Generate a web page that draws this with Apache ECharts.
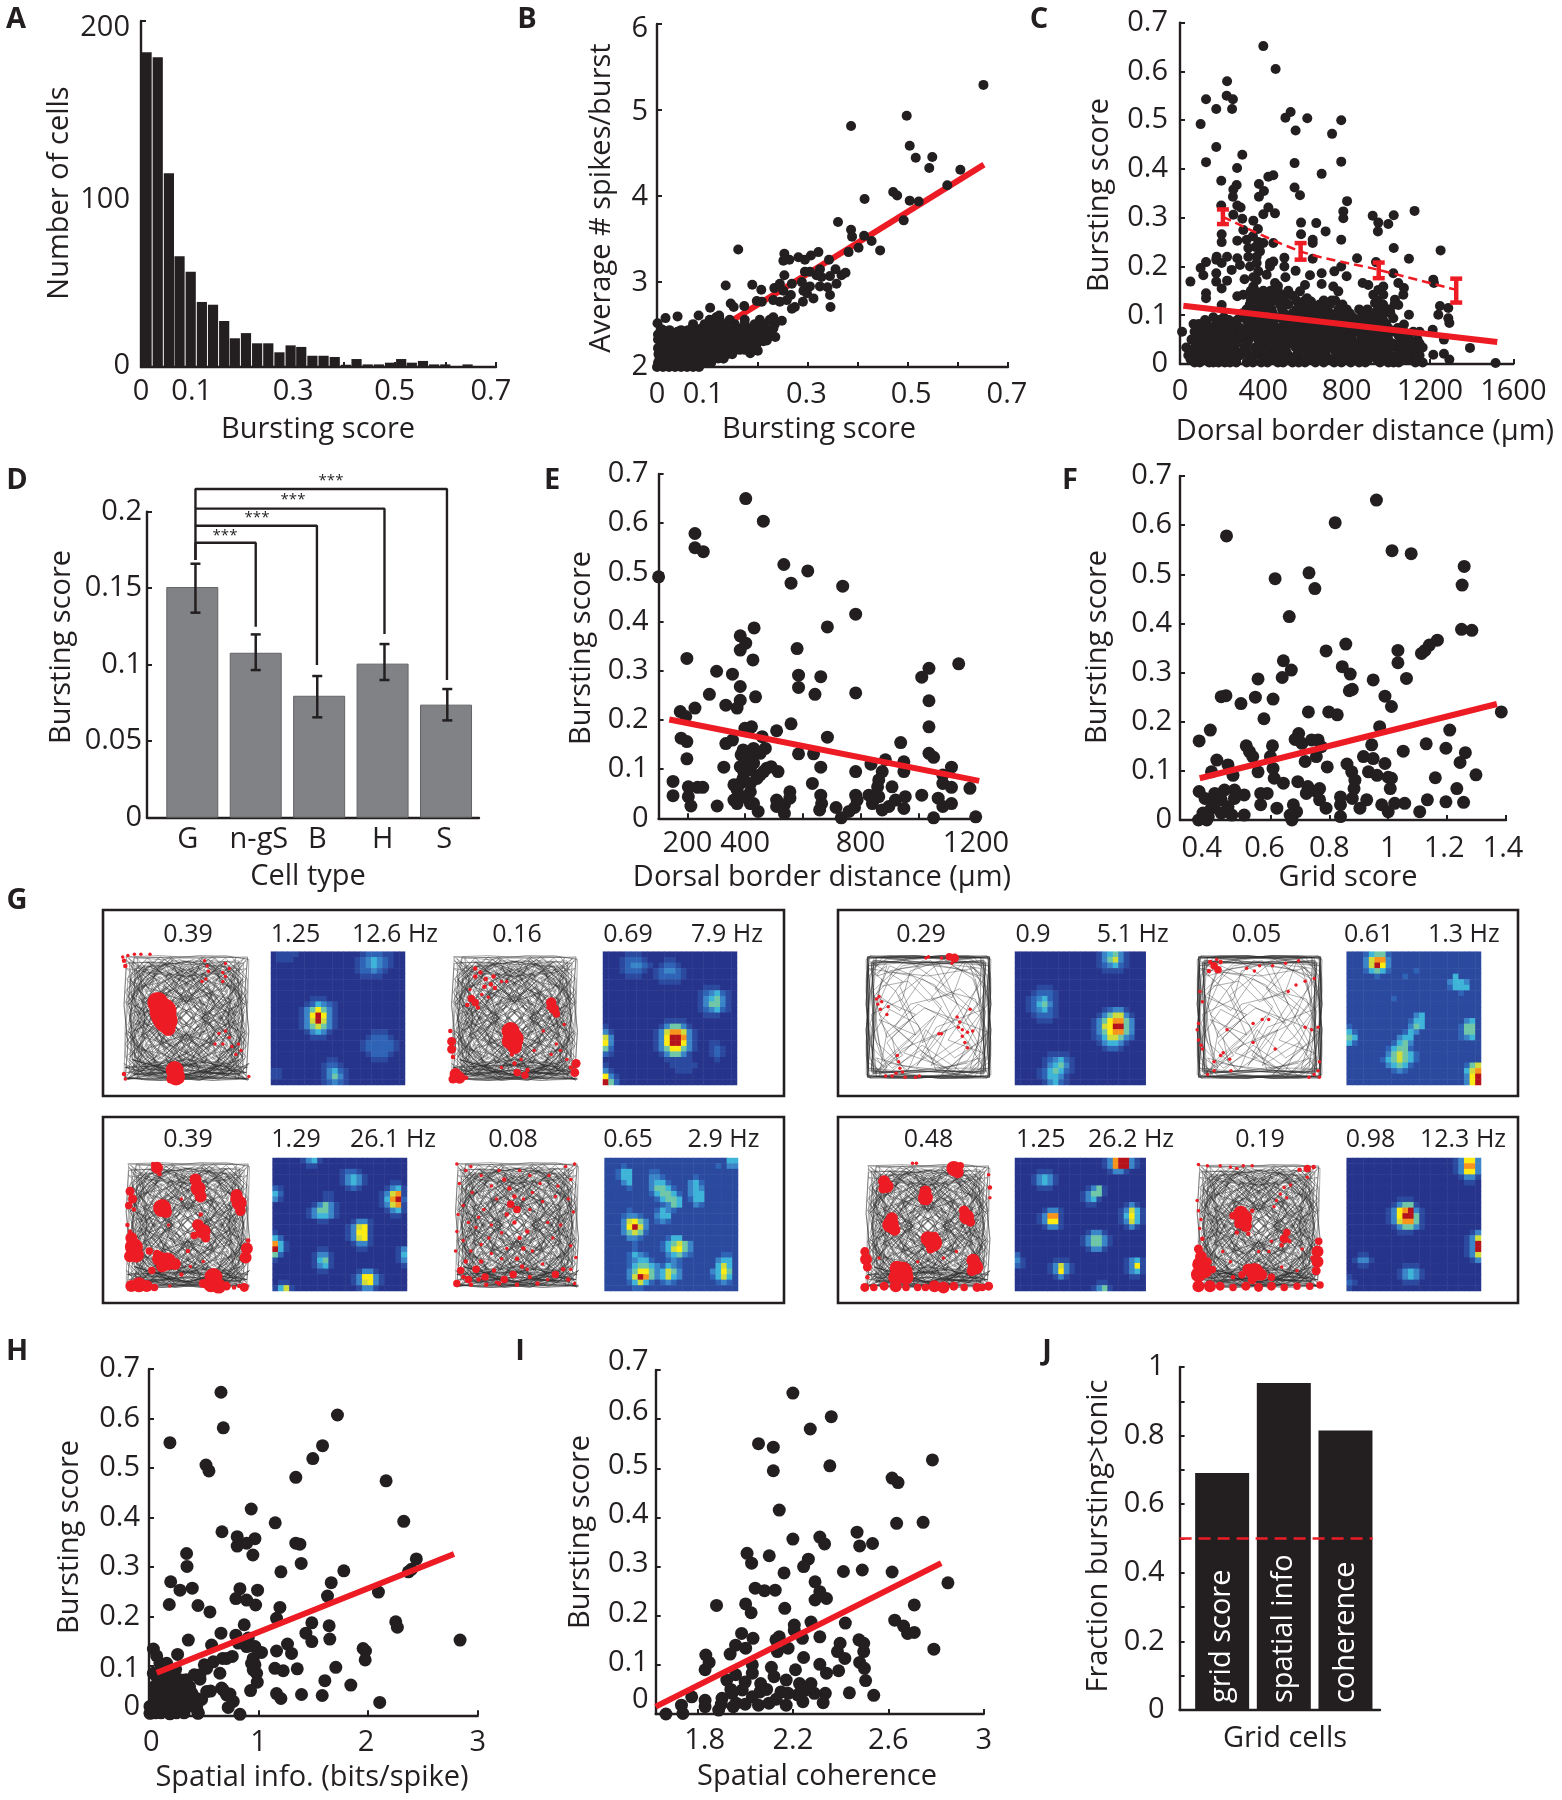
<!DOCTYPE html>
<html><head><meta charset="utf-8">
<style>html,body{margin:0;background:#fff}#c{width:1562px;height:1800px}</style>
<script src="https://cdn.jsdelivr.net/npm/echarts@6/dist/echarts.min.js"></script>
</head><body><div id="c"></div>
<script>
// Panel A histogram
const aBins=[.011,.033,.055,.076,.098,.12,.142,.164,.185,.207,.229,.251,.273,.295,.316,.338,.36,.382,.404,.425,.447,.469,.491,.513,.534,.556,.578,.6,.622,.644,.665,.687];
const aCounts=[182,179,112,64,55,37.6,36,26.6,16.6,19.6,13.7,13.7,8.5,12.5,11.6,6.5,6.5,5.8,1.3,4.6,1.5,1.5,2.5,4.6,2.5,3.5,1.5,1.5,.5,1.5,.5,.5];
// Panel B (x*1000, y*100)
const bFlat=[651,529,498,493,387,481,504,458,516,444,549,445,543,432,605,430,579,412,471,404,479,400,414,396,504,394,522,393,492,371,361,369,387,360,389,352,413,353,428,347,402,339,445,336,382,334,162,337,254,332,322,334,307,330,295,325,282,328,264,325,252,324,343,325,295,311,305,311,325,314,318,307,328,305,345,306,356,314,368,307,376,310,254,307,137,295,190,296,208,290,234,292,245,297,252,289,269,297,289,299,305,294,325,294,340,293,358,297,345,284,292,289,299,286,312,280,291,276,346,270,267,284,259,278,269,268,275,270,232,278,245,276,199,277,209,276,147,274,153,270,174,271,106,269,41,259,17,257,1,251,9,244,83,260,124,260,41,241,186,216,201,219,219,231,133,210,249,254,232,258,80,201];
const bRows=[[200,0,12,24,36,48,60,72,84],[205,2,14,28,42,55,68,80,92,100,108],[210,5,16,30,44,58,72,88,100,112,122,132],[215,3,18,33,47,60,75,90,104,118,130,140,150],[220,6,20,35,50,65,80,95,110,125,140,155,165,175],[225,8,22,38,52,68,84,100,115,130,146,162,178,188,198],[230,10,30,48,66,82,98,114,130,148,165,182,200,212],[235,25,45,64,80,96,112,128,145,160,176,192,208,222,236],[240,38,60,78,94,110,126,142,158,174,190,206,222],[245,70,88,104,120,136,152,168,184,200,216,232],[250,72,95,115,135,155,175,195,215,235],[255,105,125,145,175,205,225],[258,118],[222,2,10,14,28,44,58,72,88],[232,2,16,22,40,56,74,90],[243,12,25,48,62,84,98],[238,2,12,20,32,52,68,86],[228,14,30,44,60,76,92,108]];
// Panel C (x, y*1000)
const cFlat=[400,652,459,605,226,580,224,550,254,543,125,543,174,523,250,523,531,517,506,505,611,504,774,500,99,492,555,479,730,472,174,445,125,414,550,412,774,415,299,429,274,402,680,390,424,384,448,387,198,376,379,369,272,367,256,358,403,355,550,362,576,346,254,343,379,343,802,334,275,325,291,321,198,325,424,321,1126,314,784,313,456,309,400,307,1026,305,925,304,784,299,256,306,299,298,352,294,581,290,952,290,654,289,1000,287,950,272,699,272,374,277,581,266,200,266,304,275,200,250,275,253,320,255,774,255,637,255,637,248,376,250,400,248,448,248,1026,238,328,238,384,231,1251,233,501,218,850,217,1099,216,637,216,226,220,174,214,275,217,368,220,941,209,125,209,50,169,125,145,125,135,174,186,174,169,200,155,99,197,112,182,226,171,275,139,304,142,352,159,376,139,310,174,432,200,416,183,456,166,504,142,555,191,506,178,501,200,624,182,680,186,680,164,600,162,576,149,629,128,736,159,760,149,741,190,774,200,800,180,728,130,877,166,904,162,928,142,976,159,952,152,976,142,936,125,952,111,1024,186,1048,166,1075,156,1072,142,1032,132,1048,121,1008,108,1024,94,1099,101,1075,81,1216,173,1219,166,1248,119,1288,115,1240,101,1288,94,1293,84,1213,70,1392,33,1515,2,1267,50,1267,21,1293,9,1216,19,336,200,368,207,376,190,328,220,288,203,248,193,200,207,176,220,432,207,448,210,352,178,368,172,350,262,362,240,340,150,470,160,520,150,610,135,200,121];
const cRows=[[3,70,95,140,160,185,215,240,270,320,350,390,420,470,495,540,570,600,650,690,740,775,820,860,890,960,1000,1025,1050,1130,1165],[18,40,80,120,155,200,245,290,330,380,430,480,520,560,610,660,700,750,800,840,880,925,965,1010,1060,1110,1150],[34,30,70,110,165,210,255,310,360,400,450,500,555,590,640,680,725,765,810,850,900,940,985,1040,1085,1125,1165],[50,55,100,145,190,235,280,330,375,420,465,510,550,600,645,690,735,780,825,870,915,960,1000,1060,1100,1140],[66,10,70,125,170,215,265,310,355,395,440,490,530,575,620,660,705,750,790,835,880,925,965,1020,1075,1120,1150],[82,65,90,130,175,220,260,330,370,410,450,505,555,600,640,690,730,770,820,860,900,950,990],[96,160,210,290,340,385,430,475,520,560,605,650,690,735,780,830,870,905,955],[112,320,365,400,440,490,560,600,640,700,760,800,860,900,950,1000],[130,340,375,420,465,500,560,600,690,745,950],[150,360,400,435,470],[10,50,110,175,225,270,345,405,455,505,545,595,635,675,715,760,805,850,905,945,990,1040,1090,1140],[26,50,90,135,185,225,270,320,370,415,465,510,570,620,655,700,745,785,830,865,915,955,1000,1050,1095,1145],[42,85,130,180,225,270,320,385,435,480,530,575,620,665,710,750,795,840,885,925,975,1020,1070,1115,1150],[58,80,115,160,205,250,295,345,385,430,475,520,565,610,650,695,740,780,825,870,910,950,990,1050,1095],[74,95,150,195,240,290,340,380,425,470,515,560,610,650,695,735,780,825,865,910,945,1000,1045],[90,120,185,235,275,320,355,400,445,495,540,585,625,670,715,755,805,850,885,930,975],[104,300,350,395,445,500,540,585,630,675,720,770,815,880,925,975,1010],[122,335,385,430,480,520,580,620,670,720,780,975,1030],[140,350,385,420,455,490,540]];
// Panel E (x, y*1000)
const eFlat=[402,650,463,604,226,579,226,550,255,542,100,491,534,516,617,503,559,478,738,472,783,415,685,389,431,387,383,371,402,356,383,342,580,345,198,325,427,322,1140,314,1037,305,1012,287,301,299,356,293,585,291,662,288,585,266,383,268,276,252,642,252,783,255,436,247,1037,239,383,240,333,230,372,224,226,224,175,217,194,207,559,192,1037,186,422,186,399,183,509,178,178,163,198,156,333,152,356,159,459,166,685,165,939,154,470,142,452,132,585,131,637,131,1037,132,1053,124,198,121,386,129,418,125,886,119,950,115,836,110,326,104,383,105,475,102,395,95,514,95,662,104,1115,104,783,95,950,95,875,95,441,81,863,78,1085,88,150,75,633,71,1085,71,1115,63,859,64,909,64,1179,61,203,64,235,63,253,63,361,68,418,54,555,54,150,46,1012,47,662,47,783,47,212,25,203,44,303,25,372,30,418,30,445,14,361,37,509,37,536,27,555,41,536,10,509,24,665,30,658,17,715,22,733,1,779,22,760,14,788,37,863,44,841,30,875,17,898,24,921,37,955,44,950,20,829,47,1053,1,1069,41,1115,30,1085,24,1199,3,383,71,418,71,372,58,395,44,429,30,393,139,404,132,429,142,398,119,429,112,393,81,418,98,452,88,464,95,490,105];
// Panel F (x*1000, y*1000)
const fFlat=[960,651,820,605,451,578,1013,548,1078,542,1258,516,731,503,616,491,1251,478,751,471,664,414,1249,388,1284,386,1167,366,856,358,1140,356,789,344,1033,345,1113,339,1125,345,644,324,1033,320,844,312,671,305,871,297,640,290,558,287,1062,288,949,285,878,266,868,263,433,251,449,253,549,250,609,246,989,252,1011,231,500,237,729,220,798,220,827,214,1384,220,578,206,971,190,396,183,1209,183,358,161,696,176,684,164,707,156,740,163,762,163,773,149,518,151,607,151,944,153,1129,155,1196,146,1262,137,1051,140,529,139,540,129,600,129,718,119,756,129,916,129,949,125,1244,117,418,122,456,112,400,98,473,91,558,98,609,105,613,85,793,108,860,114,876,98,887,81,989,115,933,98,962,91,1000,87,1160,86,1298,92,644,75,693,78,727,68,767,64,884,64,1007,64,1233,64,358,58,378,44,411,54,444,61,478,61,511,51,356,0,384,0,371,14,400,24,411,34,433,41,456,27,433,14,469,10,478,44,511,10,389,7,567,54,589,54,567,31,622,24,678,31,689,17,673,0,667,10,722,54,756,58,767,41,789,24,838,47,838,31,838,7,878,44,904,24,927,41,978,31,1000,17,1022,34,1056,34,1011,85,1107,17,1133,41,1196,37,1256,36];
// Panel H (x*1000, y*1000)
const hFlat=[657,653,1720,607,678,581,191,551,1584,545,520,506,547,494,1495,519,1340,481,2164,474,933,417,1152,389,2325,392,666,371,805,361,967,357,891,348,805,342,1340,348,1377,346,343,327,948,324,1389,307,347,301,2440,316,1204,290,1778,292,2368,290,2395,295,198,270,1663,268,283,253,395,257,830,256,991,253,2094,249,1629,241,793,236,891,233,973,223,185,224,447,222,1195,218,556,209,1164,196,1486,187,2252,189,2267,178,869,183,1644,181,657,166,1432,166,359,152,793,162,1650,154,2839,152,1486,149,906,156,571,142,1264,144,815,146,891,139,40,134,1954,135,1164,130,1976,130,1301,125,1027,127,70,120,261,123,760,119,672,115,1973,112,951,115,587,108,505,102,161,105,967,102,243,93,1149,95,1225,90,1353,94,1705,97,647,85,982,85,413,82,465,73,988,67,1605,70,1842,61,927,50,562,49,663,55,739,43,1392,42,1581,40,1164,44,1204,34,2106,26,769,28,723,16,830,2,447,4,191,3,480,32,465,82,526,95,708,115,343,38,435,34,526,48,678,51,708,41,100,105,161,92,70,78,100,65,222,78,313,71,161,51,252,58,343,55,70,38,131,24,252,21,343,18,435,18,222,38,9,18,9,4,967,139,951,92,936,105];
const hRows=[[5,20,60,110,190,250,320,450],[18,30,90,150,220,280,350,410],[32,50,110,170,240,300,370],[45,60,130,190,260,320,390],[58,50,120,180,240,300,370],[72,90,150,210,280,340],[85,40,110,170]];
// Panel I (x*1000, y*1000)
const iFlat=[2200,653,2361,605,2273,580,2056,550,2118,543,2785,517,2355,505,2118,495,2616,480,2641,471,2143,415,2635,388,2746,390,2469,370,2313,360,2200,356,2333,346,2480,342,2534,347,2008,327,2101,322,2027,307,2265,315,2245,300,2163,287,2412,290,2491,293,2616,289,2850,267,2293,269,2042,256,2081,251,2126,252,2313,249,2341,235,2293,232,1880,221,2002,224,2025,206,2709,222,2166,215,2627,191,2276,187,2206,181,2420,185,2664,179,2206,170,2681,164,2709,166,1985,164,2143,157,2033,154,2313,157,2129,151,2240,154,2477,151,2497,144,2398,144,2791,132,1960,140,1835,120,1937,122,2002,134,2497,127,2135,127,2180,134,2387,127,2418,113,2245,115,1849,105,2313,101,2480,105,1832,90,2500,93,2030,100,2110,95,2392,88,2211,90,2341,83,2505,68,2030,83,2121,76,2172,69,1923,69,2065,62,2228,62,2276,62,2437,43,2539,38,2336,42,2327,23,2242,25,2172,18,2100,22,1668,0,1739,1,1733,18,1832,28,1776,35,1832,15,1889,8,1903,32,1945,42,1988,49,2030,35,2062,45,1962,22,2056,18,2150,45,2290,42,2262,52,2220,39,2000,65,1940,50,1900,20,2090,50,2130,30,2180,42,2250,48,2000,20,1950,15,1960,80];
// Panel D
const dCategories=['G','n-gS','B','H','S'];
const dMeans=[.1508,.1078,.0797,.1007,.0739];
const dErrX=[.05,1,1.97,3.03,4.02], dErrLo=[.134,.0965,.0656,.09,.0636], dErrHi=[.166,.1198,.0926,.1135,.0841];
const dBrackets=[[[.05,.1684],[.05,.1797],[1,.1797],[1,.1248]],[[.05,.1908],[1.965,.1908],[1.965,.0998]],[[.05,.202],[3.03,.202],[3.03,.12]],[[.05,.1684],[.05,.2148],[4.015,.2148],[4.015,.09]]];
// Panel C means
const cMeanX=[206,579,954,1326], cMeanY=[.302,.231,.193,.152], cMeanLo=[.287,.214,.176,.126], cMeanHi=[.317,.248,.208,.175];
// Fit lines
const bFit=[[0,2],[.652,4.36]], cFit=[[16,.1195],[1523,.045]], eFit=[[137,.201],[1211,.076]], fFit=[[.36,.085],[1.369,.236]], hFit=[[.07,.086],[2.784,.326]], iFit=[[1.625,.015],[2.822,.307]];
// Panel J
const jNames=['grid score','spatial info','coherence'], jValues=[.691,.953,.815];
// Panel G rate maps (digits 0-9 = colour level)
const rate1=["011110000000000012221100","011100000000000123432100","000000000000000123432100","000000000000000122321000","000000000000000011110000","000000000000000000000000","000000000000000000000000","000000000000000000000000","000000011100000000000000","000000124321000000000000","000001357531000000000000","000001379731000000000000","000001369631000000000000","000001356531000000000000","000000134310000000111000","000000011100000001222100","000000000000000012222210","000000000000000012222210","000000000000000001222100","000000000011000000111000","000000000122100000000000","110000000134210000000000","110000000135310000000000","000000000123210000000000"];
const rate2=["000011100000000000000000","000122210001100000000000","000123321012210000000000","000122210123321000000000","000011100122221000000000","000000000011110000000000","000000000000000000111000","000000000000000001234210","000000000000000001345310","000000000000000001355310","000000000000000001234210","000000000000000000111000","000000000001111000000000","100000000013553100000000","310000000136886310000000","630000000137998310000000","730000000137997310011000","520000000135775310012100","210000000013553100012100","000000000001111100001000","100000000000111110000000","310000000000011100000000","731000000000000000000000","952000000000000000000000"];
const rate3=["000001341000000000000000","000000110000000000000000","000000000000122100000000","000000000000134310000000","000000000000134310000110","210000000000012100001341","420000000110000000013681","310000000110000000014892","000000013531000000013681","000000135531000000001341","000000134431000000000110","000000001100001331000000","000000000000013671000000","100000000000013771000000","420000000000013671000000","841000000000001331000000","941000001100000110000013","520000013310000000000014","100000014510000000000013","000000013410000000000001","000000001100000133100000","000000000000001377310000","011000000000001367310000","146100000000000133100000"];
const rate4=["111111111111111111111144","111211111111111111112133","112441112211111111111111","112441113321111121111111","111341113442111342111111","111121113554211343111111","111111112455421344111111","111111111245541244111111","111111111123541132111111","111121111243211111111111","111233211344111111111111","111367531232111111111111","111379631111111111111111","111356521111111111111111","111133211112441111111111","111112111124565311111111","111112111124675311111111","111124321113453211111221","111123442112321111113441","111124554324321111114641","111135775346531111134751","111136985346431111124641","111124642123211111112321","111112211111111111111111"];
const rate5=["000000000000000134531000","000000000000000135631000","000000000000000123421000","000000000000000011110000","000000000000000000000000","000000000000000000000000","000011100000000000000000","000122210000000000000000","001234210000000000000000","001245310000000000000000","001234210000000012331000","000122210000000135663100","000011100000001357885300","000000000000001367995300","000000000000001357885300","000000000000001246653200","000000000000000134431000","000000000000000012210000","000000111100000000000000","000001234210000000000000","000001345310000000000000","000012454210000000000000","000012443100000000000000","000001342100000000000000"];
const rate6=["111245521111111111111111","111368831111111111111111","111369731111111111111111","111245421111211111111111","111112111121111111141111","111111111111111111344311","111111111111111111244411","111111111111111111112111","111111112111111111111111","111111111111111111111111","111111111111111111111111","111111111111341111111111","111111111112441111111341","211111111113541111112551","421111111124311111112551","541111111344111111112341","421111112453111111111111","111111124552111111111111","111111135654211111111111","111111245654211111111111","111111134542111111111256","111111112321111111111468","111111111111111111111379","111111111111111111111379"];
const rate7=["000000000000000013899310","000000000000000013899310","000011100000000001331000","000134310000000000000000","000134310000000000000000","000011100000013510000000","000000000000135510000000","000000000000134100000000","000000000000011000001310","000001331000000000013641","000013881000000000014741","000013771000000000013641","000001331000000000001310","000000000000013310000000","000000000000135531000000","000000000000135531000000","000000000000013310000000","200000000000000000000000","310000011100000000001341","210000136310000000001371","000000137310000000001341","000000013100000000000110","000000000000000110000000","000000000000001351000000"];
const rate8=["000000000000000000013773","000000000000000000013883","000000000000000000013773","000000000000000000001331","000000000000000000000110","000000000000000000000000","000000000000000000000000","000000000111000000000000","000000001355100000000000","000000013789310000000000","000000013799510000000000","000000013688510000000000","000000001355310000000000","000000000111000000000013","000000000000000000000136","000000000000000000000139","000000000000000000000139","001100000000000000000136","013310000000000000000013","001100000011100000000000","000000000134310000000000","100000000134310000000000","210000000011100000000000","100000000000000000000000"];
// Panel G running paths (x,y in % of arena)
const walkA=[4,6,30,22,12,48,38,71,9,93,44,60,27,33,58,8,72,40,41,88,66,57,93,20,78,6,52,35,84,74,60,95,96,62,47,43,18,66,7,30,33,5,63,26,90,50,70,92,31,78,55,49,15,85,5,55,22,15,50,18,85,12,97,38,76,66,52,83,24,58,36,40,68,32,94,82,80,96,45,72,20,94];
const walkB=[95,96,70,80,88,52,60,64,75,30,96,12,62,18,40,42,55,70,25,55,10,20,32,10,45,28,20,45,35,68,8,78,28,96,50,80,68,92,82,70,60,48,92,34,70,10,48,6,36,30,14,36,5,62,20,84,44,92,58,56,80,44,97,70,78,90,56,76,38,90,12,90,6,45,26,28,50,38,66,22,86,26];
const walkEdge=[3,3,30,2,60,4,97,3,95,30,98,60,96,97,70,95,40,98,3,96,5,70,2,40,4,8,25,7,55,9,90,6,93,35,92,65,94,93,60,92,30,94,6,92,8,60,6,30,10,4,40,3,80,2,98,5,97,45,95,80,90,97,50,96,15,97,3,80,4,50,7,18,18,10,12,30,9,55,14,80];
const walkBottom=[2,96,30,98,60,95,98,97,70,92,40,97,10,93,50,90,90,94,98,85,75,97,35,92,5,97,20,88,55,96,85,90,60,98,25,94,3,88,45,86,96,92,65,84,30,88,8,82,50,94,78,86,97,98];
// Panel G spikes (x%, y%, dot size)
const spikes1=[28,38,14,32,45,18,34,52,16,30,50,12,36,58,10,30,42,12,41,90,12,42,95,12,38,97,6,45,97,6,1,3,3,5,2,3,10,1,3,15,1,3,22,1,3,3,10,4,2,6,4,80,8,3,83,12,3,78,15,3,64,6,3,66,10,3,67,14,3,65,20,3,62,22,3,78,22,3,80,18,3,75,62,3,80,60,3,83,65,3,78,70,3,85,72,3,88,78,3,90,70,3,92,75,3,72,70,3,2,93,4,3,97,3,98,95,3];
const spikes2=[47,60,12,49,66,14,50,72,10,46,68,10,20,12,4,24,15,4,28,20,4,32,24,4,35,27,4,20,18,4,27,26,4,34,18,4,40,22,3,44,22,3,17,35,5,20,38,5,14,40,4,22,42,4,78,38,7,80,43,7,82,47,5,76,42,4,1,60,4,2,68,6,2,74,6,3,80,4,5,93,8,8,96,8,3,97,6,13,96,4,97,85,6,96,92,6,93,88,4,90,82,3,85,75,3,82,70,3,78,78,3,52,92,5,58,94,5,60,90,4,50,85,4,48,78,4,55,82,3,25,32,3,16,28,3,30,34,3,88,55,3,72,60,3,65,75,3,40,88,3];
const spikes3=[26,6,8,23,3,4,28,11,4,56,15,8,58,22,10,60,28,8,30,37,12,33,40,8,88,27,8,90,33,10,91,39,7,86,30,5,5,24,6,7,30,6,4,35,5,8,38,4,58,50,8,62,55,10,64,60,6,55,58,5,6,60,8,8,67,12,10,73,10,5,74,8,28,76,10,34,78,12,40,80,8,30,82,8,26,72,5,96,68,8,95,75,8,97,62,4,6,97,8,12,96,10,18,97,8,24,98,5,70,90,12,68,96,10,74,97,10,62,95,6,80,97,6,94,98,6,86,98,4,90,97,4,36,97,3,3,50,4,5,55,4,20,70,5,22,85,5,45,88,4,50,70,4,60,42,4,45,30,3,35,50,3,52,82,3,62,78,3];
const spikes4=[3,3,3,10,8,3,5,18,3,15,25,3,8,35,3,12,48,3,3,55,3,8,62,3,18,52,3,22,65,3,40,15,4,44,22,4,48,28,4,45,34,5,50,38,5,42,42,4,55,30,3,62,25,3,68,18,3,75,12,3,88,5,3,95,3,3,92,15,3,80,28,3,58,55,4,52,60,4,55,68,4,50,76,4,54,82,4,47,88,5,40,92,5,32,85,4,25,90,5,18,84,5,12,92,5,6,85,5,3,95,5,10,78,4,22,78,4,60,90,4,66,95,4,80,88,5,86,84,4,90,92,4,74,92,3,95,95,3,30,72,3,36,95,4,96,75,3,78,60,3,14,5,3,22,12,3,30,20,3,36,8,3,34,30,3,24,38,3,20,44,3,30,50,3,38,56,3,48,48,4,60,38,3,70,32,3,82,20,3,60,12,3,52,8,3,4,42,3,2,70,3,14,70,3,28,60,3,38,76,3,42,68,3,62,70,3,70,80,3,92,66,3,84,50,3,94,40,3,90,30,3,74,48,3,14,96,4,26,96,4,50,96,4,58,84,3,92,84,3,34,94,3,8,90,4,20,92,4];
const spikes5=[66,3,5,70,4,6,60,4,3,50,3,3,48,4,3,68,8,3,10,36,3,11,40,3,13,44,3,14,38,3,19,42,3,18,48,3,12,34,3,72,50,3,74,54,3,73,58,3,76,60,3,80,62,3,84,61,3,76,65,3,82,44,3,58,63,3,60,63,3,78,70,3,80,74,3,26,80,3,27,85,3,28,90,3,25,94,3,22,96,3,30,93,3,17,96,3,32,97,3,40,97,3,43,96,3];
const spikes6=[12,7,4,15,10,5,18,13,5,11,14,4,20,7,4,17,5,3,4,30,3,6,38,3,3,55,3,2,60,3,3,68,3,5,72,3,6,75,3,20,80,3,22,78,3,27,83,3,15,85,3,15,92,3,10,95,3,28,92,3,25,60,3,45,55,3,52,52,3,57,52,3,45,70,3,62,75,3,85,58,3,90,60,3,95,58,3,92,20,3,85,22,3,78,25,3,72,30,3,96,85,3,95,92,3,92,95,3,88,97,3,96,97,3,60,10,3,70,8,3,80,6,3,40,12,3,46,14,3,50,10,3];
const spikes7=[70,5,10,73,8,8,75,3,5,41,1,3,38,1,3,16,15,8,18,19,9,15,21,6,48,23,8,48,28,10,78,38,7,80,43,10,83,47,6,22,44,8,21,49,11,24,53,8,50,60,10,54,63,12,55,58,6,52,68,6,85,77,9,87,82,10,84,85,7,26,83,10,30,86,14,25,90,10,33,90,10,1,70,6,2,76,8,3,82,6,3,90,4,1,98,6,8,98,5,16,97,6,25,97,8,33,98,5,55,97,8,62,98,8,70,97,6,78,98,5,88,98,6,97,97,6,97,10,3,98,20,4,98,28,3,42,98,5,48,98,5,92,98,5,12,75,3,42,78,3,62,75,3,72,70,3];
const spikes8=[3,2,3,10,3,3,20,3,3,28,4,3,33,5,3,38,3,3,45,3,3,82,6,4,88,5,5,93,4,4,88,12,3,70,20,3,67,25,3,64,30,3,72,28,3,75,18,3,62,35,3,36,40,10,38,44,12,40,50,8,35,48,7,30,42,5,33,55,4,42,56,4,45,38,4,72,55,5,70,60,6,68,65,4,74,62,4,60,62,3,58,70,3,3,68,6,5,74,8,4,80,10,8,85,10,3,88,10,10,78,6,14,84,5,42,84,8,47,86,12,52,88,8,45,92,6,37,88,5,60,90,5,30,90,4,97,62,5,96,70,8,96,78,8,95,85,6,92,75,4,3,97,8,12,97,8,20,97,6,30,98,5,40,97,6,50,98,6,60,97,6,70,98,5,80,97,5,90,97,5,98,96,5,2,30,3,3,38,3,5,45,3,4,52,3,6,60,4,22,70,3,28,78,3,50,70,3,80,85,3,68,82,3,84,68,3];

const F='"Open Sans",sans-serif', ink='#231f20', red='#ed1c24', FS=29;
const pairs=(a,sx,sy)=>{const o=[];for(let i=0;i<a.length;i+=2)o.push([a[i]/sx,a[i+1]/sy]);return o};
const rows=(r,sx,sy)=>{const o=[];r.forEach(l=>{for(let i=1;i<l.length;i++)o.push([l[i]/sx,l[0]/sy])});return o};
const grids=[],xAxes=[],yAxes=[],series=[],heatIdx=[],graphic=[];
function panel(g){
  const i=grids.length;
  grids.push({left:g.l,top:g.t,width:g.w,height:g.h,containLabel:false});
  const mk=(a,isX)=>{
    const c=(isX?g.l+g.w/2:g.t+g.h/2);
    const ap=isX?g.t+g.h:g.l;
    const o={type:'value',gridIndex:i,min:a.min,max:a.max,splitLine:{show:false},
      axisLine:{show:true,onZero:false,lineStyle:{color:ink,width:2.4}},
      axisTick:{show:!!a.ticks,inside:true,length:5,lineStyle:{color:ink,width:2},customValues:a.ticks},
      axisLabel:{show:!!a.labels,customValues:a.labels,hideOverlap:false,margin:a.margin,color:ink,fontSize:FS,fontFamily:F,
        formatter:v=>{let b=0,d=1e9;(a.labels||[]).forEach((p,k)=>{const e=Math.abs(p-v);if(e<d){d=e;b=k}});return a.texts?a.texts[b]:''}}};
    if(a.name){
      const gap=isX?a.nc[1]-ap:ap-a.nc[0];
      const sh=isX?a.nc[0]-c:a.nc[1]-c;
      o.name=a.name;o.nameLocation='middle';o.nameGap=gap;o.nameMoveOverlap=false;
      if(!isX)o.nameRotate=90;
      const pad=[0,0,0,0];
      if(isX){if(sh>0)pad[3]=2*sh;else pad[1]=-2*sh}else{if(sh>0)pad[1]=2*sh;else pad[3]=-2*sh}
      o.nameTextStyle={color:ink,fontSize:FS,fontFamily:F,padding:pad,verticalAlign:'middle'};
    }
    return o};
  xAxes.push(Object.assign(mk(g.x,true),{position:'bottom'}));
  yAxes.push(Object.assign(mk(g.y,false),{position:'left'}));
  return i;
}
const on=i=>({xAxisIndex:i,yAxisIndex:i,silent:true,animation:false});
const dots=(i,d,s,z)=>series.push(Object.assign(on(i),{type:'scatter',data:d,symbolSize:s,clip:false,itemStyle:{color:ink,opacity:1},z:z||3}));
const fit=(i,d,z)=>series.push(Object.assign(on(i),{type:'line',data:d,showSymbol:false,clip:false,lineStyle:{color:red,width:6,cap:'butt'},z:z||4}));
const errs=(i,xs,lo,hi,color,w,cap)=>series.push(Object.assign(on(i),{type:'custom',clip:false,z:5,data:xs.map((x,k)=>[x,lo[k],hi[k]]),encode:{x:0,y:[1,2]},
  renderItem:(p,api)=>{const a=api.coord([api.value(0),api.value(1)]),b=api.coord([api.value(0),api.value(2)]);
    const st={stroke:color,lineWidth:w,fill:null};
    return {type:'group',children:[{type:'line',shape:{x1:a[0],y1:a[1],x2:b[0],y2:b[1]},style:st},{type:'line',shape:{x1:a[0]-cap,y1:a[1],x2:a[0]+cap,y2:a[1]},style:st},{type:'line',shape:{x1:b[0]-cap,y1:b[1],x2:b[0]+cap,y2:b[1]},style:st}]}}}));

const seq7=[0,.1,.2,.3,.4,.5,.6,.7], seq7t=['0','0.1','0.2','0.3','0.4','0.5','0.6','0.7'];
// A
let g=panel({l:141,t:21,w:355,h:346,
 x:{min:0,max:.7,ticks:[.1,.2,.3,.4,.5,.6,.7],labels:[0,.1,.3,.5,.69],texts:['0','0.1','0.3','0.5','0.7'],margin:10,name:'Bursting score',nc:[318,430]},
 y:{min:0,max:200,ticks:[0,100,200],labels:[1,96.5,196],texts:['0','100','200'],margin:11,name:'Number of cells',nc:[60,193]}});
series.push(Object.assign(on(g),{type:'bar',data:aBins.map((b,k)=>[b,aCounts[k]]),barWidth:10.2,itemStyle:{color:ink}}));
// B
g=panel({l:657,t:24,w:351,h:343,
 x:{min:0,max:.7,ticks:[.1,.2,.3,.4,.5,.6,.7],labels:[0,.092,.298,.507,.698],texts:['0','0.1','0.3','0.5','0.7'],margin:13,name:'Bursting score',nc:[819,430]},
 y:{min:2,max:6,ticks:[2,3,4,5,6],labels:[2,2.98,3.98,4.98,5.95],texts:['2','3','4','5','6'],margin:9,name:'Average # spikes/burst',nc:[602,198]}});
fit(g,bFit,2); dots(g,pairs(bFlat,1000,100).concat(rows(bRows,1000,100)),10);
// C
g=panel({l:1180,t:22.7,w:333.3,h:341.3,
 x:{min:0,max:1600,ticks:[400,800,1200,1600],labels:[0,400,800,1200,1600],texts:['0','400','800','1200','1600'],margin:13,name:'Dorsal border distance (µm)',nc:[1365,432]},
 y:{min:0,max:.7,ticks:seq7,labels:seq7,texts:seq7t,margin:12,name:'Bursting score',nc:[1100,195]}});
dots(g,pairs(cFlat,1,1000).concat(rows(cRows,1,1000)),10); fit(g,cFit);
series.push(Object.assign(on(g),{type:'line',data:cMeanX.map((x,k)=>[x,cMeanY[k]]),smooth:.3,showSymbol:false,clip:false,z:4,lineStyle:{color:red,width:2.5,type:[9,5]}}));
errs(g,cMeanX,cMeanLo,cMeanHi,red,4.5,6);
// D
g=panel({l:147,t:511.7,w:332,h:306,
 x:{min:-.714,max:4.52,labels:[-.07,1.05,1.97,3.0,3.97],texts:dCategories,margin:8,name:'Cell type',nc:[308,877]},
 y:{min:0,max:.2,ticks:[0,.05,.1,.15,.2],labels:[0,.05,.1,.15,.2],texts:['0','0.05','0.1','0.15','0.2'],margin:5,name:'Bursting score',nc:[62,647]}});
xAxes[g].axisTick.show=false;
series.push(Object.assign(on(g),{type:'bar',data:dMeans.map((v,k)=>[k,v]),barWidth:52,itemStyle:{color:'#808285',borderColor:'#636466',borderWidth:1}}));
errs(g,dErrX,dErrLo,dErrHi,ink,2.5,5);
dBrackets.forEach(b=>series.push(Object.assign(on(g),{type:'line',data:b,showSymbol:false,clip:false,z:5,lineStyle:{color:ink,width:2.4}})));
// E
g=panel({l:658.6,t:474,w:317.4,h:344.3,
 x:{min:100,max:1200,ticks:[200,400,600,800,1000,1200],labels:[200,400,800,1200],texts:['200','400','800','1200'],margin:11,name:'Dorsal border distance (µm)',nc:[822,878]},
 y:{min:0,max:.7,ticks:seq7,labels:seq7,texts:seq7t,margin:10,name:'Bursting score',nc:[582,648]}});
dots(g,pairs(eFlat,1,1000),13); fit(g,eFit);
// F
g=panel({l:1180,t:476,w:326,h:344,
 x:{min:.293,max:1.4,ticks:[.4,.6,.8,1,1.2,1.4],labels:[.367,.58,.8,1,1.19,1.39],texts:['0.4','0.6','0.8','1','1.2','1.4'],margin:14,name:'Grid score',nc:[1348,878]},
 y:{min:0,max:.7,ticks:seq7,labels:seq7,texts:seq7t,margin:8,name:'Bursting score',nc:[1098,647]}});
dots(g,pairs(fFlat,1000,1000),13); fit(g,fFit);
// H
g=panel({l:149,t:1369,w:328.7,h:346.3,
 x:{min:0,max:3,ticks:[1,2,3],labels:[.02,1,1.98,3],texts:['0','1','2','3'],margin:13,name:'Spatial info. (bits/spike)',nc:[312,1778]},
 y:{min:0,max:.7,ticks:seq7,labels:[.018,.095,.2,.3,.4,.5,.6,.7],texts:seq7t,margin:9,name:'Bursting score',nc:[70,1537]}});
dots(g,pairs(hFlat,1000,1000).concat(rows(hRows,1000,1000)),13); fit(g,hFit);
// I
g=panel({l:655.7,t:1370,w:328,h:344,
 x:{min:1.625,max:3,ticks:[1.8,2.2,2.6,3],labels:[1.83,2.2,2.6,3],texts:['1.8','2.2','2.6','3'],margin:12,name:'Spatial coherence',nc:[817,1777]},
 y:{min:0,max:.7,ticks:seq7,labels:[.03,.105,.205,.305,.405,.505,.6155],texts:seq7t.slice(0,7),margin:7,name:'Bursting score',nc:[581,1532]}});
graphic.push({type:'text',silent:true,style:{text:'0.7',x:648.7,y:1362,align:'right',verticalAlign:'middle',font:FS+'px '+F,fill:ink}});
dots(g,pairs(iFlat,1000,1000),13); fit(g,iFit);
// J
g=panel({l:1179.6,t:1367,w:200.4,h:343,
 x:{min:-.69,max:2.56,name:'Grid cells',nc:[1285,1739]},
 y:{min:0,max:1,ticks:[0,.1,.2,.3,.4,.5,.6,.7,.8,.9,1],labels:[0,.2,.4,.6,.8,1],texts:['0','0.2','0.4','0.6','0.8','1'],margin:15,name:'Fraction bursting>tonic',nc:[1099,1536]}});
series.push(Object.assign(on(g),{type:'bar',data:jValues.map((v,k)=>({value:[k,v],name:jNames[k]})),barWidth:54,itemStyle:{color:ink},
  label:{show:true,position:'insideBottom',rotate:90,align:'left',verticalAlign:'middle',distance:7,color:'#fff',fontFamily:F,fontSize:29,formatter:p=>p.name}}));
series.push(Object.assign(on(g),{type:'line',data:[[-.69,.5],[2.44,.5]],showSymbol:false,z:5,lineStyle:{color:red,width:2.5,type:[12,7]}}));

// G
const frames=[[103,910,681,186],[103,1117,681,186],[838,910,680,186],[838,1117,680,186]];
frames.forEach(f=>graphic.push({type:'rect',shape:{x:f[0],y:f[1],width:f[2],height:f[3]},style:{fill:null,stroke:ink,lineWidth:2.6},silent:true}));
const bare=(i,min,max,inv,cat)=>{const o={gridIndex:i,show:false};if(cat){o.type='category';o.data=cat}else{o.type='value';o.min=min;o.max=max}if(inv)o.inverse=true;return o};
const cells=Array.from({length:24},(_,k)=>k);
function rateMap(rows_,l,t,w,h){
  const i=grids.length;grids.push({left:l,top:t,width:w,height:h,containLabel:false});
  xAxes.push(bare(i,0,0,false,cells));yAxes.push(bare(i,0,0,true,cells));
  const d=[];rows_.forEach((r,y)=>[...r].forEach((c,x)=>d.push([x,y,+c])));
  heatIdx.push(series.length);
  series.push(Object.assign(on(i),{type:'heatmap',data:d,itemStyle:{borderWidth:0}}));
}
const flip=(a,m)=>{const o=[];for(let i=0;i<a.length;i+=2){let x=a[i],y=a[i+1];if(m&1)x=100-x;if(m&2)y=100-y;o.push(m&4?[y,x]:[x,y])}return o};
function arena(walks,spk,l,t,w,h){
  const i=grids.length;grids.push({left:l,top:t,width:w,height:h,containLabel:false});
  xAxes.push(bare(i,0,100));yAxes.push(bare(i,0,100,true));
  walks.forEach(k=>series.push(Object.assign(on(i),{type:'line',data:flip(k[0],k[1]),showSymbol:false,clip:false,lineStyle:{color:'#2a2a2a',width:.7,opacity:.55},z:2})));
  const d=[];for(let k=0;k<spk.length;k+=3){const s=spk[k+2];d.push([spk[k],spk[k+1],s>=5?s*1.5:s+.5])}
  series.push(Object.assign(on(i),{type:'scatter',data:d,clip:false,symbolSize:v=>v[2],itemStyle:{color:red,opacity:1},z:3}));
}
const all8=w=>[0,1,2,3,4,5,6,7].map(m=>[w,m]);
const denseW=[...all8(walkA),...all8(walkB),[walkEdge,0],[walkEdge,3],[walkBottom,0],[walkBottom,1],[walkBottom,0]];
const sparseW=[[walkA,0],[walkB,1],[walkB,4],...all8(walkEdge)];
arena(denseW,spikes1,121.4,953,130,130); rateMap(rate1,271,951.7,134,133.3);
arena(denseW,spikes2,449,953,131,130); rateMap(rate2,603,951.7,134,133.3);
arena(denseW,spikes3,123.6,1160,128.4,130); rateMap(rate3,272.6,1158,134.4,133);
arena(denseW,spikes4,453,1160,128,130); rateMap(rate4,604.6,1158,133.4,133);
arena(sparseW,spikes5,863.5,953,130,128); rateMap(rate5,1015,951.7,130.7,133.3);
arena(sparseW,spikes6,1194.6,953,130,128); rateMap(rate6,1346.7,951.7,134.3,133.3);
arena(denseW,spikes7,863.5,1162,129,128); rateMap(rate7,1015,1158,130.7,133);
arena(denseW,spikes8,1194.6,1162,128,128); rateMap(rate8,1346.7,1158,134.3,133);

const gText=[['0.39',188,935],['1.25',295.5,935],['12.6 Hz',395,935],['0.16',517,935],['0.69',628,935],['7.9 Hz',727,935],
['0.39',188,1140],['1.29',296,1140],['26.1 Hz',393,1140],['0.08',513,1140],['0.65',628,1140],['2.9 Hz',723.5,1140],
['0.29',921,935],['0.9',1033,935],['5.1 Hz',1132.7,935],['0.05',1256.5,935],['0.61',1368.7,935],['1.3 Hz',1463.8,935],
['0.48',928.6,1140],['1.25',1040.7,1140],['26.2 Hz',1131,1140],['0.19',1260,1140],['0.98',1370.5,1140],['12.3 Hz',1463,1140]];
gText.forEach(t=>graphic.push({type:'text',silent:true,style:{text:t[0],x:t[1],y:t[2],align:'center',verticalAlign:'middle',font:'25px '+F,fill:ink}}));
const letters=[['A',16,20],['B',527,20],['C',1039,20],['D',17,481],['E',552,481],['F',1070,481],['G',17,901],['H',17,1352],['I',520,1352],['J',1047,1352]];
letters.forEach(t=>graphic.push({type:'text',silent:true,style:{text:t[0],x:t[1],y:t[2],align:'center',verticalAlign:'middle',font:'bold 29px '+F,fill:ink}}));
[['***',225,536],['***',257,518],['***',293,500],['***',331,481]].forEach(t=>graphic.push({type:'text',silent:true,style:{text:t[0],x:t[1],y:t[2],align:'center',verticalAlign:'middle',font:'15px '+F,fill:ink}}));

const chart=echarts.init(document.getElementById('c'),null,{renderer:'canvas',width:1562,height:1800});
chart.setOption({animation:false,backgroundColor:'#fff',grid:grids,xAxis:xAxes,yAxis:yAxes,series,graphic:{elements:graphic},
 visualMap:{type:'continuous',show:false,min:0,max:9,dimension:2,seriesIndex:heatIdx,inRange:{color:['#27348b','#2b4a9f','#2f63b5','#3a85c8','#3fb4d9','#6fc7a8','#cfdc3c','#fdeb14','#f7941d','#b5121b']}}});
</script></body></html>
